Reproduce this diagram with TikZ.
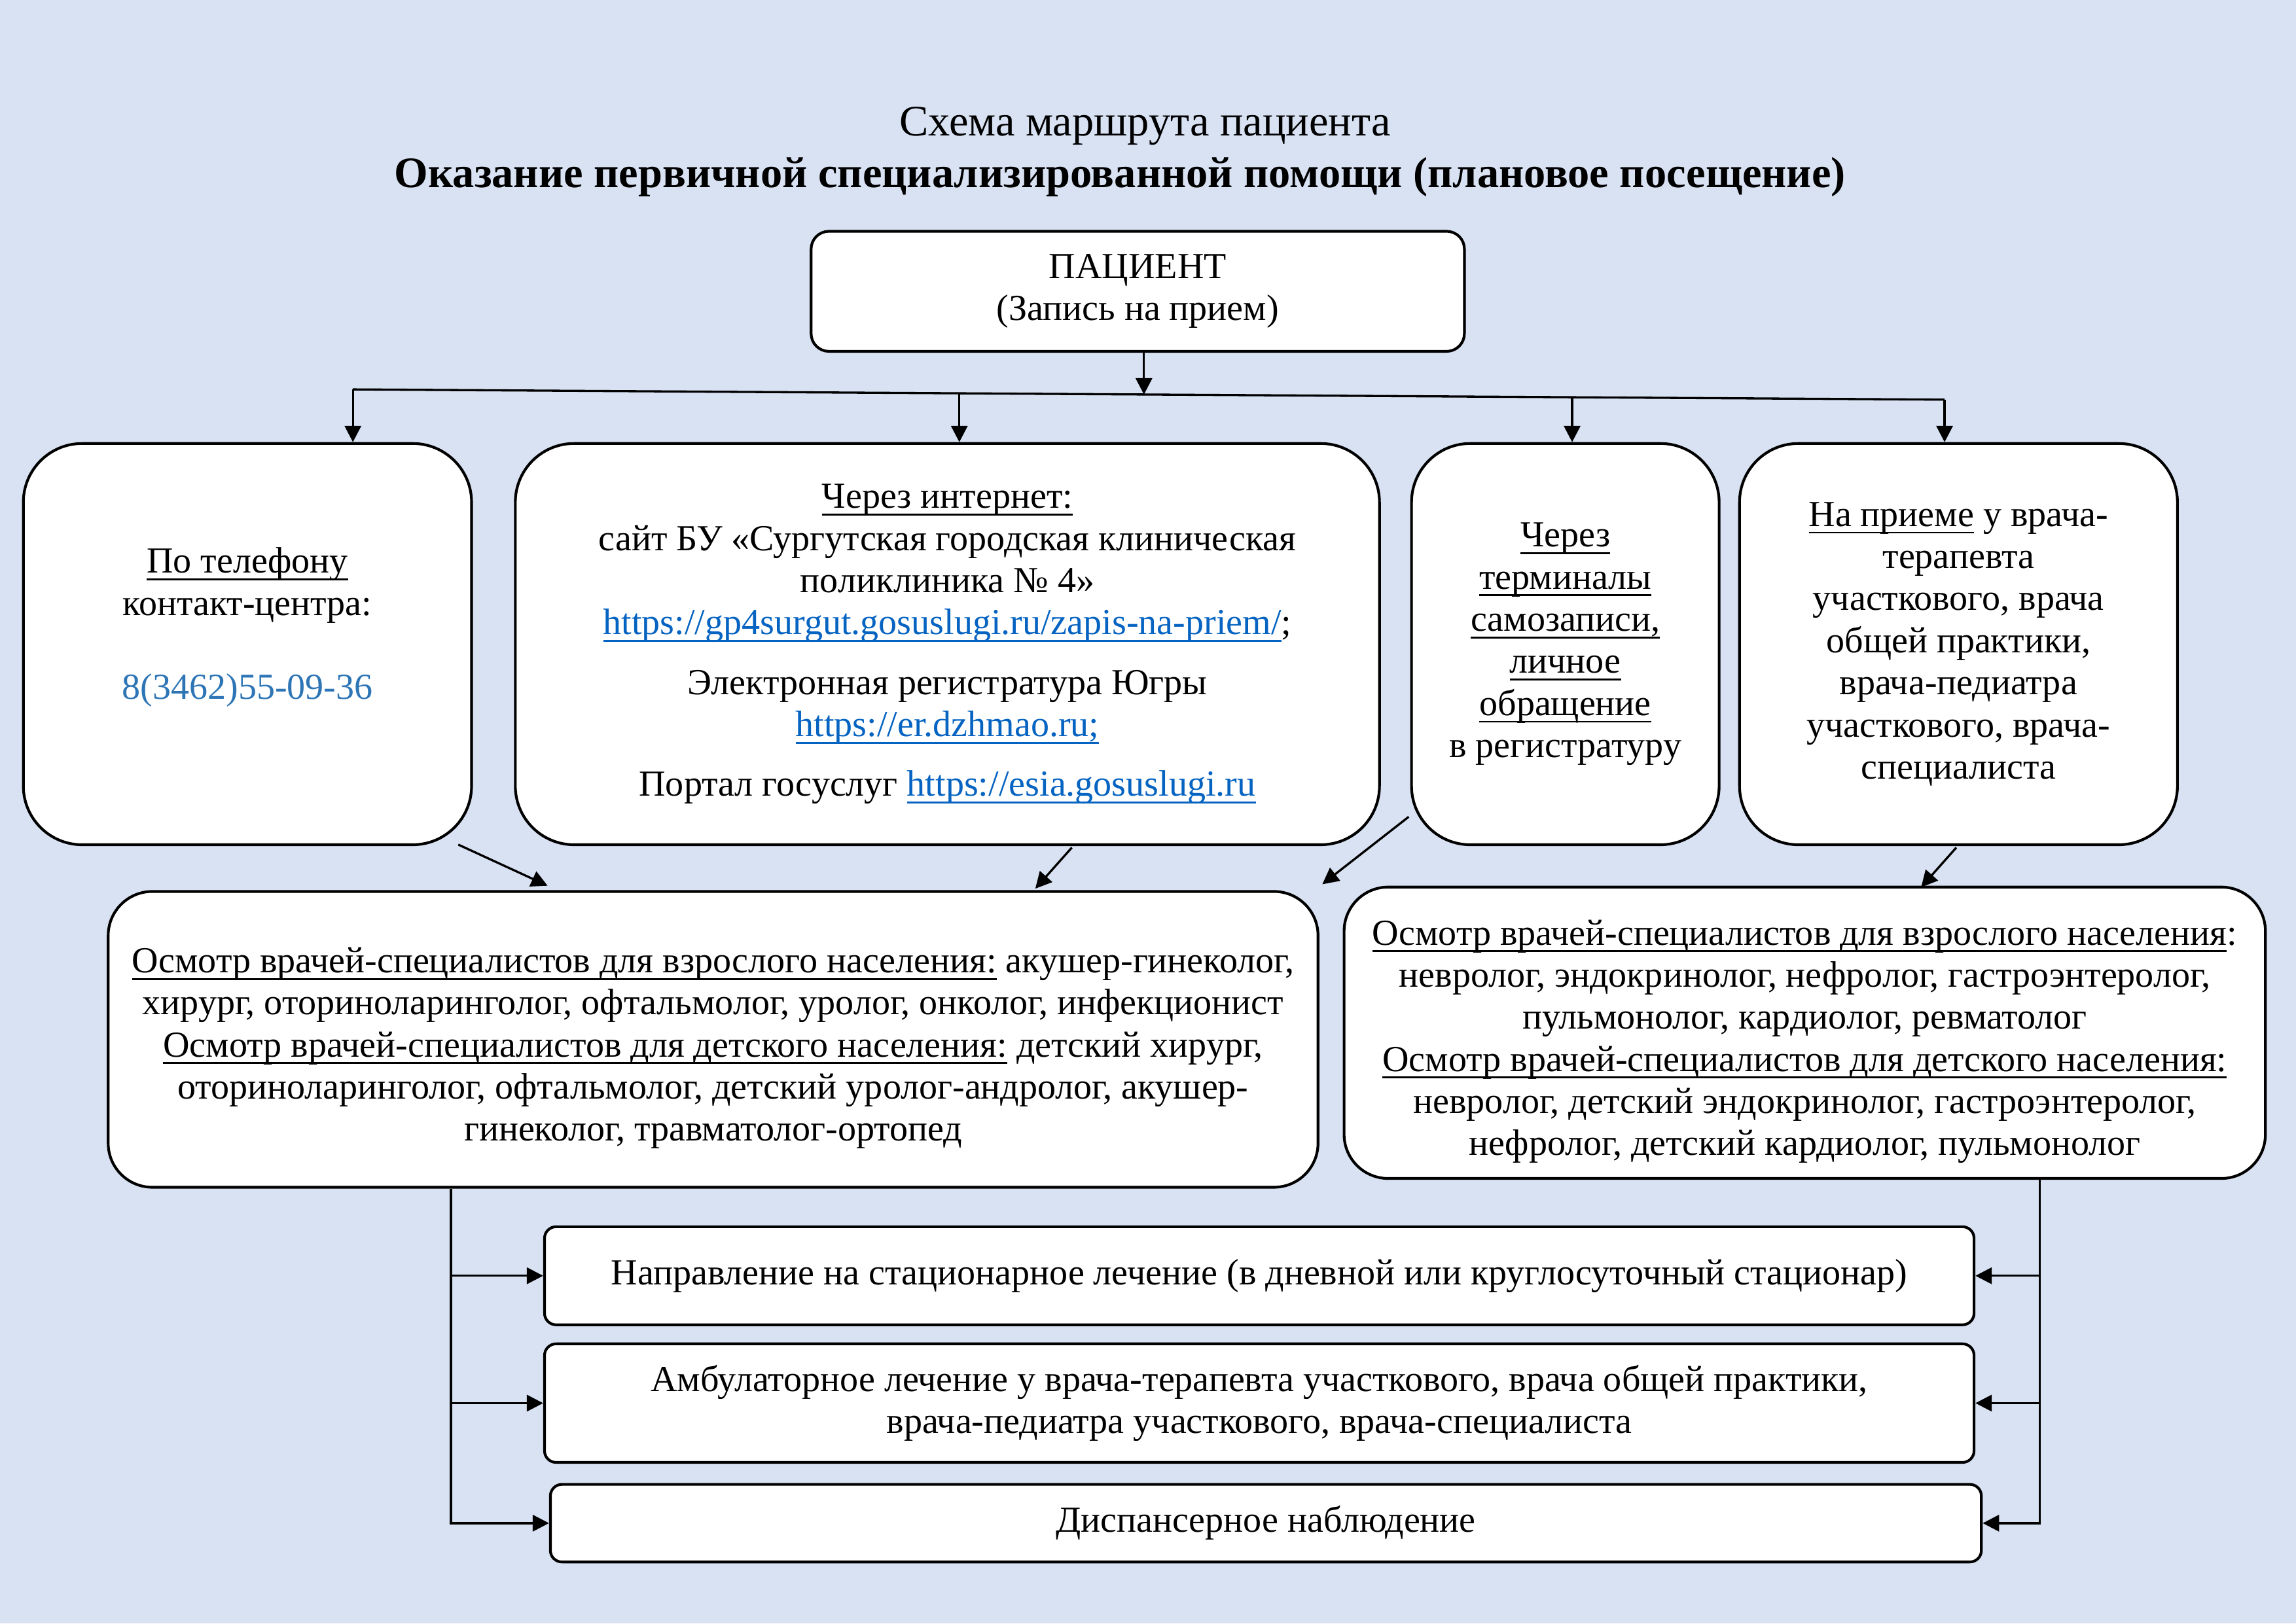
\documentclass[tikz,border=0pt]{standalone}
\usepackage{fontspec}
\setmainfont{Liberation Serif}
\usepackage{xcolor}
\usepackage{tikz}
\usetikzlibrary{arrows.meta,positioning,calc}

\definecolor{pagebg}{HTML}{D9E2F3}
\definecolor{linkblue}{HTML}{0563C1}
\definecolor{phoneblue}{HTML}{2E75B6}
\newcommand{\ulin}[1]{\setbox0=\hbox{#1}\rlap{\rule[-2.7pt]{\wd0}{0.7pt}}\box0\relax}

\begin{document}
\begin{tikzpicture}[
  x=0.018941cm, y=-0.018941cm,
  font=\fontsize{13.5}{15.5}\selectfont,
  heading/.style={font=\fontsize{16}{18}\selectfont},
  box/.style={draw, fill=white, line width=1pt, align=center, inner sep=0pt},
  topbox/.style={box, rounded corners=0.76cm, minimum height=5.190cm},
  midbox/.style={box, rounded corners=0.57cm},
  lowbox/.style={box, rounded corners=0.15cm},
  boxtext/.style={align=center, inner sep=0pt},
  wire/.style={line width=0.8pt},
  arr/.style={-{Triangle[length=6pt,width=6pt]}, line width=0.8pt},
]

% --- Page ---
\useasboundingbox (0,0) rectangle (1568,1109);
\fill[pagebg] (0,0) rectangle (1568,1109);

% --- Title ---
\node[heading] (title) at (782,86) {Схема маршрута пациента};
\node[heading, font=\fontsize{16}{18}\selectfont\bfseries] (subtitle) at (765,121) {Оказание первичной специализированной помощи (плановое посещение)};

% --- Patient ---
\node[box, rounded corners=0.23cm, minimum width=8.448cm, minimum height=1.553cm] (patient) at (777,199) {ПАЦИЕНТ\\(Запись на прием)};

% --- Ways to book ---
\node[topbox, minimum width=5.796cm] (phone) at (169,440) {};
\node[boxtext] (phonetext) at ($(phone.center)+(0,19)$)
{\ulin{По телефону}\\контакт-центра:\\[15.5pt]{\color{phoneblue}8(3462)55-09-36}\\[15.5pt]\strut};
\node[topbox, minimum width=11.175cm] (inet) at (647,440)
{\ulin{Через интернет:}\\сайт БУ «Сургутская городская клиническая\\поликлиника № 4»\\{\color{linkblue}\ulin{https://gp4surgut.gosuslugi.ru/zapis-na-priem/}};\\[6.5pt]Электронная регистратура Югры\\{\color{linkblue}\ulin{https://er.dzhmao.ru;}}\\[6.5pt]Портал госуслуг {\color{linkblue}\ulin{https://esia.gosuslugi.ru}}};
\node[topbox, minimum width=3.978cm] (term) at (1069,440)
{\ulin{Через}\\\ulin{терминалы}\\\ulin{самозаписи,}\\\ulin{личное}\\\ulin{обращение}\\в регистратуру};
\node[topbox, minimum width=5.663cm] (recep) at (1337.5,440)
{\ulin{На приеме} у врача-\\терапевта\\участкового, врача\\общей практики,\\врача-педиатра\\участкового, врача-\\специалиста};

% --- Specialists ---
\node[midbox, minimum width=15.645cm, minimum height=3.826cm] (specA) at (487,710) {};
\node[boxtext] (specAtext) at ($(specA.center)+(0,6)$)
{\ulin{Осмотр врачей-специалистов для взрослого населения:} акушер-гинеколог,\\хирург, оториноларинголог, офтальмолог, уролог, онколог, инфекционист\\\ulin{Осмотр врачей-специалистов для детского населения:} детский хирург,\\оториноларинголог, офтальмолог, детский уролог-андролог, акушер-\\гинеколог, травматолог-ортопед};
\node[midbox, minimum width=11.914cm, minimum height=3.769cm] (specC) at (1232.5,705.5) {};
\node[boxtext] (specCtext) at ($(specC.center)+(0,6)$)
{\ulin{Осмотр врачей-специалистов для взрослого населения}:\\невролог, эндокринолог, нефролог, гастроэнтеролог,\\пульмонолог, кардиолог, ревматолог\\\ulin{Осмотр врачей-специалистов для детского населения:}\\невролог, детский эндокринолог, гастроэнтеролог,\\нефролог, детский кардиолог, пульмонолог};

% --- Outcomes ---
\node[lowbox, minimum width=18.486cm, minimum height=1.269cm] (hosp) at (860,871.5)
{Направление на стационарное лечение (в дневной или круглосуточный стационар)};
\node[lowbox, minimum width=18.486cm, minimum height=1.534cm] (amb) at (860,958.5)
{Амбулаторное лечение у врача-терапевта участкового, врача общей практики,\\врача-педиатра участкового, врача-специалиста};
\node[lowbox, minimum width=18.505cm, minimum height=1.004cm] (disp) at (864.5,1040.5)
{Диспансерное наблюдение};

% --- Bus from patient ---
\coordinate (busL) at (241,266);
\coordinate (busR) at (1328,273);
\coordinate (busP) at ($(busL)!0.497!(busR)$);
\coordinate (busI) at ($(busL)!0.381!(busR)$);
\coordinate (busT) at ($(busL)!0.766!(busR)$);
\draw[wire] (busL) -- (busR);
\draw[arr] (patient.south -| busP) -- (busP);
\draw[arr] (busL) -- (busL |- phone.north);
\draw[arr] (busI) -- (busI |- inet.north);
\draw[arr] (busT) -- (busT |- term.north);
\draw[arr] (busR) -- (busR |- recep.north);

% --- Into specialists ---
\draw[arr] ($(phone.south east)+(-10,-1)$) -- ($(specA.north west)+(301,-3)$);
\draw[arr] ($(inet.south)+(85,1)$) -- ($(specA.north east)+(-194,-1)$);
\draw[arr] ($(term.south west)+(-1,-20)$) -- ($(specA.north east)+(2,-4)$);
\draw[arr] ($(recep.south)+(-1.5,1)$) -- ($(specC.north)+(79.5,1)$);

% --- Outcomes, left and right ---
\coordinate (lt) at ($(specA.south west)+(235,0)$);
\coordinate (rt) at ($(specC.south east)+(-155,0)$);
\draw[arr] (lt) |- (disp.west);
\draw[arr] (lt |- hosp.west) -- (hosp.west);
\draw[arr] (lt |- amb.west) -- (amb.west);
\draw[arr] (rt) |- (disp.east);
\draw[arr] (rt |- hosp.east) -- (hosp.east);
\draw[arr] (rt |- amb.east) -- (amb.east);

\end{tikzpicture}
\end{document}
